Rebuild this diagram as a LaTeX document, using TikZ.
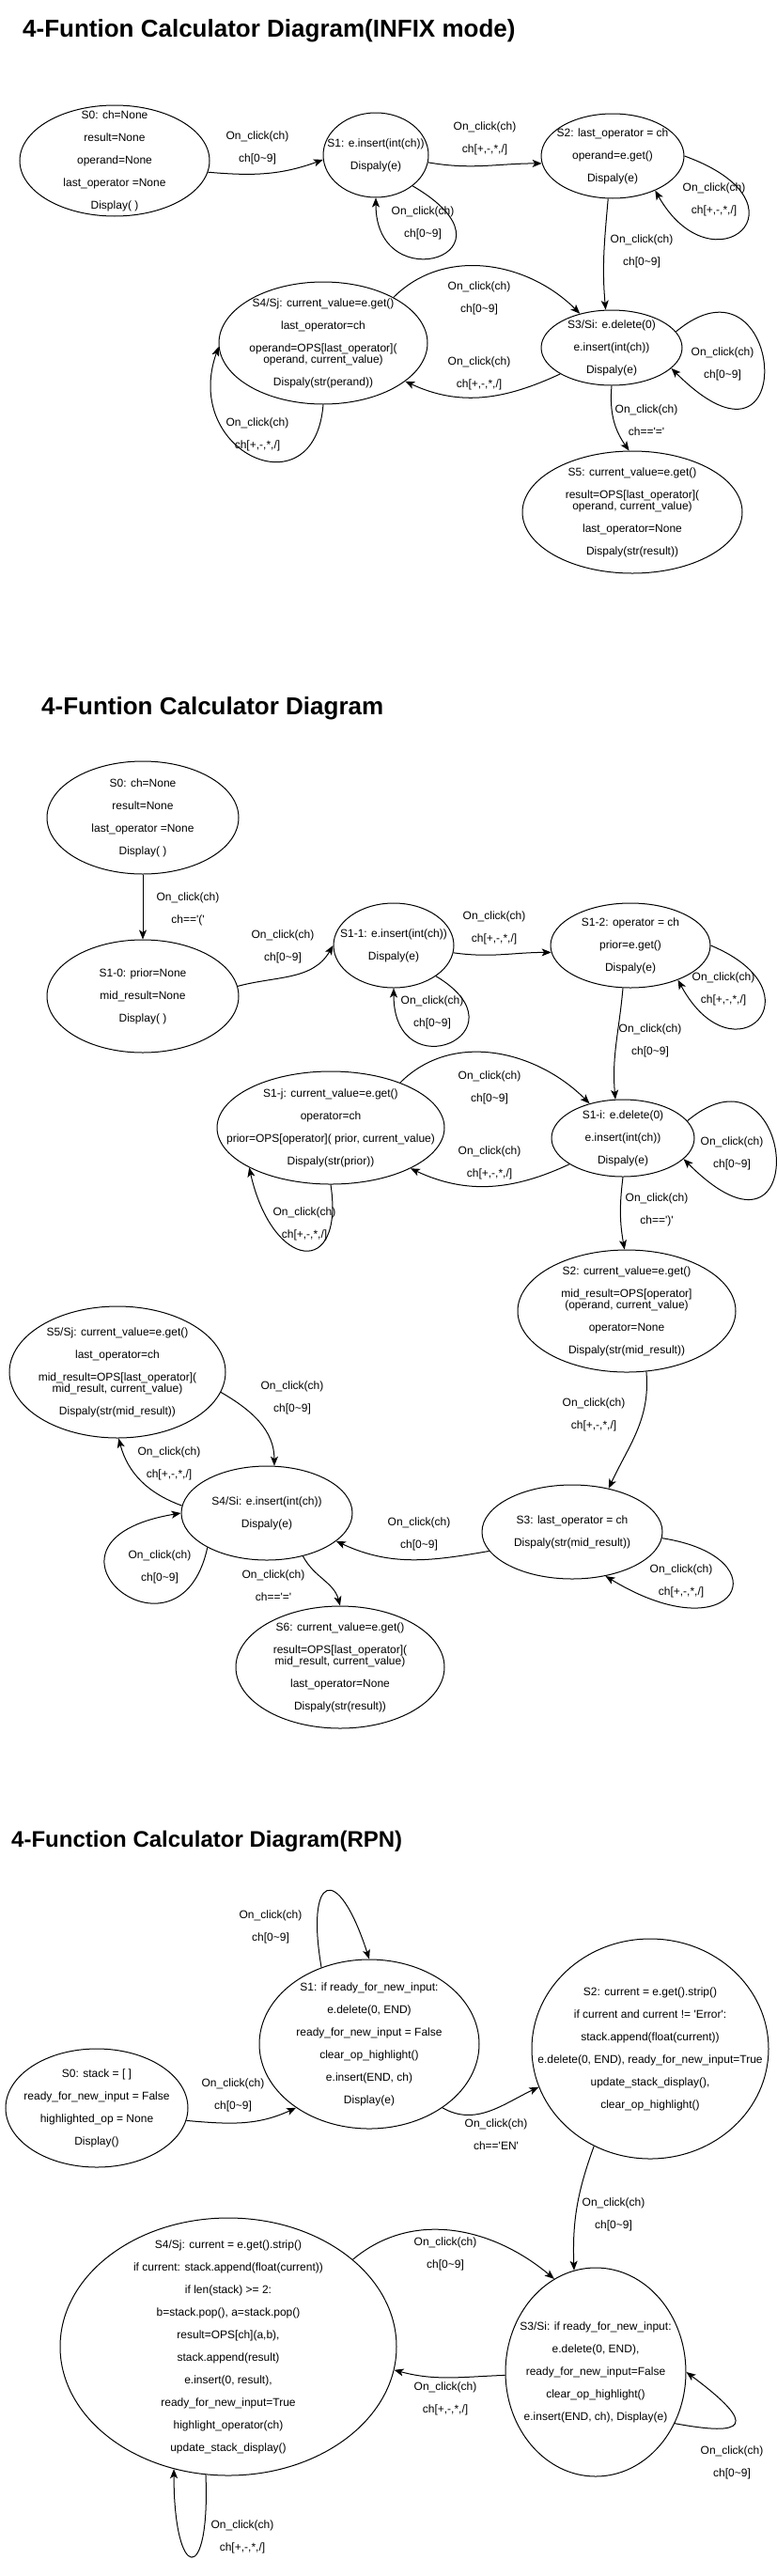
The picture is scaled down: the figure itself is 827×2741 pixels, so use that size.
\documentclass[tikz,border=0pt]{standalone}
\usepackage{fontspec}
\setmainfont{Liberation Sans}
\usetikzlibrary{shapes.geometric,arrows.meta}

\begin{document}
\begin{tikzpicture}[x=1pt,y=1pt,
    stnode/.style={draw,ellipse,line width=1pt,inner xsep=-40pt,inner ysep=-20pt,align=center,font=\fontsize{12}{24}\selectfont},
    lbl/.style={align=center,inner sep=0pt,font=\fontsize{12}{24}\selectfont},
    ttl/.style={anchor=base west,inner sep=0pt,font=\fontsize{26}{30}\selectfont\bfseries},
    arr/.style={-{Stealth[length=10pt,width=8pt,inset=2.5pt]},line width=1pt}]
  \useasboundingbox (0,0) rectangle (827,-2741);

  % INFIX mode
  \node[ttl] (t1) at (24,-39) {4-Funtion Calculator Diagram(INFIX mode)};

  \node[stnode,minimum width=202pt,minimum height=118pt] (a0) at (122,-171) {S0: ch=None\\result=None\\operand=None\\last\_operator =None\\Display( )};
  \node[stnode,minimum width=112pt,minimum height=90pt] (a1) at (400,-165) {S1: e.insert(int(ch))\\Dispaly(e)};
  \node[stnode,minimum width=152pt,minimum height=90pt] (a2) at (652,-166) {S2: last\_operator = ch\\operand=e.get()\\Dispaly(e)};
  \node[stnode,minimum width=150pt,minimum height=80pt] (a3) at (651,-370) {S3/Si: e.delete(0)\\e.insert(int(ch))\\Dispaly(e)};
  \node[stnode,minimum width=222pt,minimum height=130pt] (a4) at (344,-365) {S4/Sj: current\_value=e.get()\\last\_operator=ch\\operand=OPS[last\_operator](\\[-12pt]operand, current\_value)\\Dispaly(str(perand))};
  \node[stnode,minimum width=234pt,minimum height=130pt] (a5) at (673,-545) {S5: current\_value=e.get()\\result=OPS[last\_operator](\\[-12pt]operand, current\_value)\\last\_operator=None\\Dispaly(str(result))};

  \draw[arr] (a0.-7) to[out=-5,in=200] (a1.185);
  \draw[arr] (a1.-8) to[out=-10,in=180] (a2.186);
  \draw[arr] (a1.-40) .. controls +(124,-72) and +(0,-110) .. (a1.-90);
  \draw[arr] (a2.0) .. controls +(141,-51) and +(62,-109) .. (a2.-39);
  \draw[arr] (a2.-96) to[out=-95,in=95] (a3.99);
  \draw[arr] (a4.33) to[out=45,in=135] (a3.133);
  \draw[arr] (a3.207) to[out=205,in=-25] (a4.-25);
  \draw[arr] (a3.14) .. controls +(115,96) and +(141,-141) .. (a3.-19);
  \draw[arr] (a4.-90) .. controls +(-9,-115) and +(-40,-113) .. (a4.182);
  \draw[arr] (a3.-90) to[out=-95,in=125] (a5.93);

  \node[lbl] (la1) at (274,-157) {On\_click(ch)\\ch[0\textasciitilde 9]};
  \node[lbl] (la2) at (516,-147) {On\_click(ch)\\ch[+,-,*,/]};
  \node[lbl] (la3) at (450,-237) {On\_click(ch)\\ch[0\textasciitilde 9]};
  \node[lbl] (la4) at (760,-212) {On\_click(ch)\\ch[+,-,*,/]};
  \node[lbl] (la5) at (683,-267) {On\_click(ch)\\ch[0\textasciitilde 9]};
  \node[lbl] (la6) at (510,-317) {On\_click(ch)\\ch[0\textasciitilde 9]};
  \node[lbl] (la7) at (510,-397) {On\_click(ch)\\ch[+,-,*,/]};
  \node[lbl] (la8) at (769,-387) {On\_click(ch)\\ch[0\textasciitilde 9]};
  \node[lbl] (la9) at (274,-462) {On\_click(ch)\\ch[+,-,*,/]};
  \node[lbl] (la10) at (688,-447) {On\_click(ch)\\ch==\textquotesingle=\textquotesingle};

  % with brackets
  \node[ttl] (t2) at (44,-760) {4-Funtion Calculator Diagram};

  \node[stnode,minimum width=204pt,minimum height=120pt] (b0) at (152,-870) {S0: ch=None\\result=None\\last\_operator =None\\Display( )};
  \node[stnode,minimum width=204pt,minimum height=120pt] (b10) at (152,-1060) {S1-0: prior=None\\mid\_result=None\\Display( )};
  \node[stnode,minimum width=128pt,minimum height=90pt] (b11) at (419,-1006) {S1-1: e.insert(int(ch))\\Dispaly(e)};
  \node[stnode,minimum width=170pt,minimum height=90pt] (b12) at (671,-1006) {S1-2: operator = ch\\prior=e.get()\\Dispaly(e)};
  \node[stnode,minimum width=152pt,minimum height=82pt] (b1i) at (663,-1211) {S1-i: e.delete(0)\\e.insert(int(ch))\\Dispaly(e)};
  \node[stnode,minimum width=242pt,minimum height=120pt] (b1j) at (352,-1200) {S1-j: current\_value=e.get()\\operator=ch\\prior=OPS[operator]( prior, current\_value)\\Dispaly(str(prior))};
  \node[stnode,minimum width=232pt,minimum height=130pt] (b2) at (667,-1395) {S2: current\_value=e.get()\\mid\_result=OPS[operator]\\[-12pt](operand, current\_value)\\operator=None\\Dispaly(str(mid\_result))};
  \node[stnode,minimum width=192pt,minimum height=100pt] (b3) at (609,-1630) {S3: last\_operator = ch\\Dispaly(str(mid\_result))};
  \node[stnode,minimum width=182pt,minimum height=100pt] (b4) at (284,-1610) {S4/Si: e.insert(int(ch))\\Dispaly(e)};
  \node[stnode,minimum width=230pt,minimum height=140pt] (b5) at (125,-1460) {S5/Sj: current\_value=e.get()\\last\_operator=ch\\mid\_result=OPS[last\_operator](\\[-12pt]mid\_result, current\_value)\\Dispaly(str(mid\_result))};
  \node[stnode,minimum width=222pt,minimum height=130pt] (b6) at (362,-1774) {S6: current\_value=e.get()\\result=OPS[last\_operator](\\[-12pt]mid\_result, current\_value)\\last\_operator=None\\Dispaly(str(result))};

  \draw[arr] (b0) -- (b10);
  \draw[arr] (b10.6) to[out=15,in=240] (b11.180);
  \draw[arr] (b11.-7) to[out=-8,in=180] (b12.185);
  \draw[arr] (b11.-36) .. controls +(100,-60) and +(0,-110) .. (b11.-90);
  \draw[arr] (b12.0) .. controls +(120,-50) and +(60,-110) .. (b12.-36);
  \draw[arr] (b12.-100) to[out=-95,in=95] (b1i.101);
  \draw[arr] (b1j.33) to[out=45,in=135] (b1i.134);
  \draw[arr] (b1i.206) to[out=205,in=-25] (b1j.-27);
  \draw[arr] (b1i.15) .. controls +(115,96) and +(141,-141) .. (b1i.-19);
  \draw[arr] (b1j.-90) .. controls +(15,-100) and +(25,-110) .. (b1j.206);
  \draw[arr] (b1i.-90) to[out=-97,in=100] (b2.92);
  \draw[arr] (b2.-72) to[out=-85,in=65] (b3.50);
  \draw[arr] (b5.-11) to[out=-30,in=90] (b4.81);
  \draw[arr] (b4.175) to[out=160,in=-75] (b5.-89);
  \draw[arr] (b4.210) .. controls +(-30,-140) and +(-180,-30) .. (b4.180);
  \draw[arr] (b4.-50) to[out=-62,in=105] (b6.90);
  \draw[arr] (b3.193) to[out=190,in=-25] (b4.-22);
  \draw[arr] (b3.-4) .. controls +(130,-20) and +(140,-85) .. (b3.-53);

  \node[lbl] (lb1) at (200,-967) {On\_click(ch)\\ch==\textquotesingle(\textquotesingle};
  \node[lbl] (lb2) at (301,-1007) {On\_click(ch)\\ch[0\textasciitilde 9]};
  \node[lbl] (lb3) at (526,-987) {On\_click(ch)\\ch[+,-,*,/]};
  \node[lbl] (lb4) at (460,-1077) {On\_click(ch)\\ch[0\textasciitilde 9]};
  \node[lbl] (lb5) at (770,-1052) {On\_click(ch)\\ch[+,-,*,/]};
  \node[lbl] (lb6) at (692,-1107) {On\_click(ch)\\ch[0\textasciitilde 9]};
  \node[lbl] (lb7) at (521,-1157) {On\_click(ch)\\ch[0\textasciitilde 9]};
  \node[lbl] (lb8) at (521,-1237) {On\_click(ch)\\ch[+,-,*,/]};
  \node[lbl] (lb9) at (779,-1227) {On\_click(ch)\\ch[0\textasciitilde 9]};
  \node[lbl] (lb10) at (324,-1302) {On\_click(ch)\\ch[+,-,*,/]};
  \node[lbl] (lb11) at (699,-1287) {On\_click(ch)\\ch==\textquotesingle)\textquotesingle};
  \node[lbl] (lb12) at (632,-1505) {On\_click(ch)\\ch[+,-,*,/]};
  \node[lbl] (lb13) at (311,-1487) {On\_click(ch)\\ch[0\textasciitilde 9]};
  \node[lbl] (lb14) at (180,-1557) {On\_click(ch)\\ch[+,-,*,/]};
  \node[lbl] (lb15) at (170,-1667) {On\_click(ch)\\ch[0\textasciitilde 9]};
  \node[lbl] (lb16) at (291,-1687) {On\_click(ch)\\ch==\textquotesingle=\textquotesingle};
  \node[lbl] (lb17) at (446,-1632) {On\_click(ch)\\ch[0\textasciitilde 9]};
  \node[lbl] (lb18) at (725,-1682) {On\_click(ch)\\ch[+,-,*,/]};

  % RPN
  \node[ttl,font=\fontsize{24}{30}\selectfont\bfseries] (t3) at (12,-1965) {4-Function Calculator Diagram(RPN)};

  \node[stnode,minimum width=194pt,minimum height=126pt] (c0) at (103,-2243) {S0: stack = [ ]\\ready\_for\_new\_input = False\\highlighted\_op = None\\Display()};
  \node[stnode,minimum width=234pt,minimum height=180pt] (c1) at (393,-2175) {S1: if ready\_for\_new\_input:\\e.delete(0, END)\\ready\_for\_new\_input = False\\clear\_op\_highlight()\\e.insert(END, ch)\\Display(e)};
  \node[stnode,minimum width=252pt,minimum height=234pt] (c2) at (692,-2180) {S2: current = e.get().strip()\\if current and current != \textquotesingle Error\textquotesingle:\\stack.append(float(current))\\e.delete(0, END), ready\_for\_new\_input=True\\update\_stack\_display(),\\clear\_op\_highlight()};
  \node[stnode,minimum width=192pt,minimum height=222pt] (c3) at (634,-2524) {S3/Si: if ready\_for\_new\_input:\\e.delete(0, END),\\ready\_for\_new\_input=False\\clear\_op\_highlight()\\e.insert(END, ch), Display(e)};
  \node[stnode,minimum width=358pt,minimum height=274pt] (c4) at (243,-2497) {S4/Sj: current = e.get().strip()\\if current: stack.append(float(current))\\if len(stack) >= 2:\\b=stack.pop(), a=stack.pop()\\result=OPS[ch](a,b),\\stack.append(result)\\e.insert(0, result),\\ready\_for\_new\_input=True\\highlight\_operator(ch)\\update\_stack\_display()};

  \draw[arr] (c0.-8) to[out=-5,in=205] (c1.221);
  \draw[arr] (c1.122) .. controls +(-17,99) and +(-34,105) .. (c1.90);
  \draw[arr] (c1.-41) to[out=-30,in=205] (c2.199);
  \draw[arr] (c2.-120) to[out=-110,in=92] (c3.102);
  \draw[arr] (c4.35) to[out=40,in=140] (c3.114);
  \draw[arr] (c3.182) to[out=182,in=-15] (c4.-8);
  \draw[arr] (c3.-33) .. controls +(75,-14) and +(78,-58) .. (c3.0);
  \draw[arr] (c4.-100) .. controls +(5,-120) and +(0,-120) .. (c4.-114);

  \node[lbl] (lc1) at (248,-2229) {On\_click(ch)\\ch[0\textasciitilde 9]};
  \node[lbl] (lc2) at (288,-2050) {On\_click(ch)\\ch[0\textasciitilde 9]};
  \node[lbl] (lc3) at (528,-2271) {On\_click(ch)\\ch==\textquotesingle EN\textquotesingle};
  \node[lbl] (lc4) at (653,-2356) {On\_click(ch)\\ch[0\textasciitilde 9]};
  \node[lbl] (lc5) at (474,-2398) {On\_click(ch)\\ch[0\textasciitilde 9]};
  \node[lbl] (lc6) at (474,-2552) {On\_click(ch)\\ch[+,-,*,/]};
  \node[lbl] (lc7) at (779,-2620) {On\_click(ch)\\ch[0\textasciitilde 9]};
  \node[lbl] (lc8) at (258,-2699) {On\_click(ch)\\ch[+,-,*,/]};
\end{tikzpicture}
\end{document}
